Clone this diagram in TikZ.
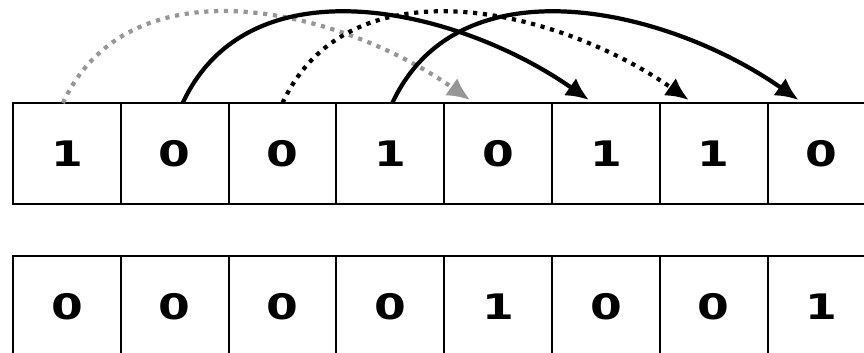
\documentclass[tikz,border=0pt]{standalone}
\usepackage{fontspec}
\newfontfamily\bitfont[FakeStretch=1.3]{DejaVu Sans}
\usetikzlibrary{arrows.meta, calc}
\definecolor{dotgray}{RGB}{150,150,150}

\begin{document}
\begin{tikzpicture}[
    bit/.style={draw=black, semithick, fill=white, minimum width=1.078cm, minimum height=1.01cm,
      inner sep=0pt, outer sep=0pt, text depth=-0.6mm, font=\bitfont\bfseries\fontsize{10}{12}\selectfont},
    jump/.style={-{Latex[length=6.5pt, width=6pt]}, line width=1.2pt, out=65, in=145, looseness=1},
    dots/.style={dash pattern=on 1.2pt off 1.6pt}
  ]
  \useasboundingbox (0,0) rectangle (8.64,3.52);

  % --- Top row (input bits) ---
  \foreach \b [count=\i] in {1,0,0,1,0,1,1,0}
    \node[bit] (t\i) at ({0.13+1.078*(\i-0.5)}, 1.985) {\b};

  % --- Bottom row (result) ---
  \foreach \b [count=\i] in {0,0,0,0,1,0,0,1}
    \node[bit] (b\i) at ({0.13+1.078*(\i-0.5)}, 0.455) {\b};

  % --- Jumps over four cells ---
  \draw[jump, dots, dotgray] ([xshift=-0.4mm]t1.north) to ([xshift=-2.8mm, yshift=0.3mm]t5.north);
  \draw[jump] ([xshift=0.8mm]t2.north) to ([xshift=-1.7mm, yshift=0.3mm]t6.north);
  \draw[jump, dots] (t3.north) to ([xshift=-2.5mm, yshift=0.3mm]t7.north);
  \draw[jump] ([xshift=0.2mm]t4.north) to ([xshift=-2.3mm, yshift=0.3mm]t8.north);
\end{tikzpicture}
\end{document}
